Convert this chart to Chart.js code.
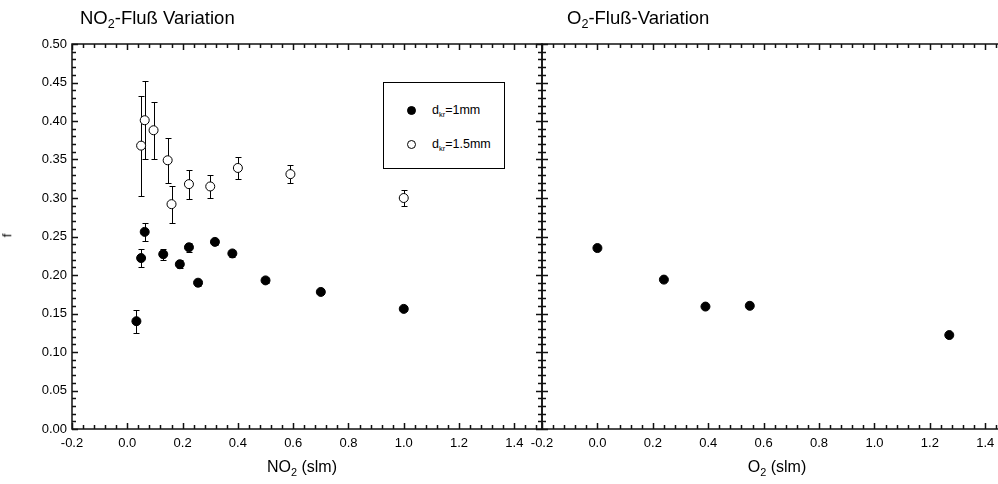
<!DOCTYPE html>
<html>
<head>
<meta charset="utf-8">
<title>NO2 / O2 Fluß Variation</title>
<script src="https://cdn.jsdelivr.net/npm/chart.js@4.4.1/dist/chart.umd.min.js"></script>
<style>
  html, body { margin: 0; padding: 0; background: #fff; overflow: hidden; }
  #wrap { position: relative; width: 998px; height: 484px; overflow: hidden;
          font-family: "Liberation Sans", Arial, sans-serif; color: #000; }
  canvas { position: absolute; top: 0; }
  .txt { position: absolute; white-space: nowrap; line-height: 1; }
  .txt sub { font-size: 0.68em; vertical-align: -0.35em; line-height: 0; }
  .title { font-size: 18.5px; top: 9px; }
  .axtitle { font-size: 16px; top: 459px; transform: translateX(-50%); }
  #legend { position: absolute; left: 383px; top: 82px; width: 122px; height: 87px;
            border: 1px solid #000; box-sizing: border-box; background: #fff; }
  .lrow { position: absolute; left: 0; font-size: 12.5px; }
  .lrow .dot { position: absolute; left: 23px; top: -4px; width: 9px; height: 9px;
               border-radius: 50%; box-sizing: border-box; border: 1px solid #000; }
  .lrow .lab { position: absolute; left: 48px; top: -7px; white-space: nowrap; }
  .lrow .lab sub { font-size: 0.6em; vertical-align: -0.4em; line-height: 0; }
</style>
</head>
<body>
<div id="wrap">
  <canvas id="leftCanvas" width="560" height="484" style="left:0"></canvas>
  <canvas id="rightCanvas" width="500" height="484" style="left:520px"></canvas>

  <div class="txt title" style="left:80px">NO<sub>2</sub>-Fluß Variation</div>
  <div class="txt title" style="left:567px">O<sub>2</sub>-Fluß-Variation</div>
  <div class="txt axtitle" style="left:302px">NO<sub>2</sub> (slm)</div>
  <div class="txt axtitle" style="left:777px">O<sub>2</sub> (slm)</div>
  <div class="txt" style="left:5px; top:229px; font-size:13px; transform: rotate(-90deg);">f</div>

  <div id="legend">
    <div class="lrow" style="top:27px"><span class="dot" style="background:#000"></span><span class="lab">d<sub>kr</sub>=1mm</span></div>
    <div class="lrow" style="top:61px"><span class="dot" style="background:#fff"></span><span class="lab">d<sub>kr</sub>=1.5mm</span></div>
  </div>
</div>

<script>
// NO2 flow variation, d_kr = 1 mm (filled)
const no2Flow1mm = [0.033, 0.05, 0.063, 0.13, 0.19, 0.223, 0.256, 0.317, 0.38, 0.5, 0.7, 1.0];
const f1mm       = [0.140, 0.222, 0.256, 0.227, 0.214, 0.236, 0.190, 0.243, 0.228, 0.193, 0.178, 0.156];
const err1mm     = [0.015, 0.012, 0.012, 0.007, 0.005, 0.006, 0.004, 0.004, 0.004, 0.003, 0.003, 0.003];

// NO2 flow variation, d_kr = 1.5 mm (open)
const no2Flow15mm = [0.05, 0.063, 0.095, 0.146, 0.16, 0.223, 0.30, 0.40, 0.59, 1.0];
const f15mm       = [0.368, 0.401, 0.388, 0.349, 0.292, 0.318, 0.315, 0.339, 0.331, 0.300];
const err15mm     = [0.065, 0.051, 0.037, 0.029, 0.024, 0.019, 0.015, 0.014, 0.012, 0.010];

// O2 flow variation
const o2Flow = [0.0, 0.24, 0.39, 0.55, 1.27];
const fO2    = [0.235, 0.194, 0.159, 0.160, 0.122];

// axis ticks
const xTicks = [-0.2, 0.0, 0.2, 0.4, 0.6, 0.8, 1.0, 1.2, 1.4];
const yTicks = [0.00, 0.05, 0.10, 0.15, 0.20, 0.25, 0.30, 0.35, 0.40, 0.45, 0.50];

Chart.defaults.font.family = '"Liberation Sans", Arial, sans-serif';
Chart.defaults.font.size = 13;
Chart.defaults.color = '#000';

const toPoints = (xs, ys) => xs.map((x, i) => ({ x: x, y: ys[i] }));

// vertical error bars, drawn under the markers
const errorBars = {
  id: 'errorBars',
  beforeDatasetsDraw(chart) {
    const ctx = chart.ctx;
    const xs = chart.scales.x, ys = chart.scales.y;
    ctx.save();
    ctx.strokeStyle = '#000';
    ctx.lineWidth = 1;
    chart.data.datasets.forEach(ds => {
      if (!ds.errors) return;
      ds.data.forEach((p, i) => {
        const e = ds.errors[i];
        if (!e) return;
        const px = Math.round(xs.getPixelForValue(p.x)) + 0.5;
        const top = Math.round(ys.getPixelForValue(p.y + e)) + 0.5;
        const bot = Math.round(ys.getPixelForValue(p.y - e)) + 0.5;
        ctx.beginPath();
        ctx.moveTo(px, top); ctx.lineTo(px, bot);
        ctx.moveTo(px - 3, top); ctx.lineTo(px + 3, top);
        ctx.moveTo(px - 3, bot); ctx.lineTo(px + 3, bot);
        ctx.stroke();
      });
    });
    ctx.restore();
  }
};

// frame with inward ticks on every side (major + minor)
const frameTicks = {
  id: 'frameTicks',
  afterDraw(chart) {
    const ctx = chart.ctx, a = chart.chartArea;
    const xs = chart.scales.x, ys = chart.scales.y;
    const L = Math.round(a.left), R = Math.round(a.right);
    const T = Math.round(a.top), B = Math.round(a.bottom);
    ctx.save();
    ctx.strokeStyle = '#111';
    ctx.lineWidth = 1.5;
    ctx.strokeRect(L, T, R - L, B - T);
    ctx.beginPath();
    // x: minor every 0.04, major every 0.2
    for (let i = 0; ; i++) {
      const v = xs.min + i * 0.04;
      if (v > xs.max + 1e-9) break;
      const p = Math.round(xs.getPixelForValue(v)) + 0.5;
      const len = i % 5 === 0 ? 6 : 4;
      ctx.moveTo(p, B); ctx.lineTo(p, B - len);
      ctx.moveTo(p, T); ctx.lineTo(p, T + len);
    }
    // y: minor every 0.01, major every 0.05
    for (let i = 0; ; i++) {
      const v = ys.min + i * 0.01;
      if (v > ys.max + 1e-9) break;
      const p = Math.round(ys.getPixelForValue(v)) + 0.5;
      const len = i % 5 === 0 ? 6 : 4;
      ctx.moveTo(L, p); ctx.lineTo(L + len, p);
      ctx.moveTo(R, p); ctx.lineTo(R - len, p);
    }
    ctx.stroke();
    ctx.restore();
  }
};

function xScale() {
  return {
    type: 'linear', position: 'bottom', min: -0.2, max: 1.5,
    grid: { display: false, drawTicks: false },
    border: { display: false },
    afterBuildTicks: s => { s.ticks = xTicks.map(v => ({ value: v })); },
    afterFit: s => { s.height = 30; },
    ticks: { padding: 7, maxRotation: 0, autoSkip: false,
             callback: v => Number(v).toFixed(1) }
  };
}

function yScale(show) {
  return {
    type: 'linear', min: 0, max: 0.5, display: show,
    grid: { display: false, drawTicks: false },
    border: { display: false },
    afterBuildTicks: s => { s.ticks = yTicks.map(v => ({ value: v })); },
    afterFit: s => { s.width = show ? 40 : 0; },
    ticks: { padding: 5, autoSkip: false, callback: v => Number(v).toFixed(2) }
  };
}

const baseOptions = {
  responsive: false,
  animation: false,
  plugins: { legend: { display: false }, tooltip: { enabled: false } }
};

new Chart(document.getElementById('leftCanvas'), {
  type: 'scatter',
  data: {
    datasets: [
      {
        label: 'dkr=1mm',
        data: toPoints(no2Flow1mm, f1mm),
        errors: err1mm,
        pointRadius: 4.5,
        backgroundColor: '#000',
        borderColor: '#000',
        borderWidth: 1
      },
      {
        label: 'dkr=1.5mm',
        data: toPoints(no2Flow15mm, f15mm),
        errors: err15mm,
        pointRadius: 4.5,
        backgroundColor: '#fff',
        borderColor: '#000',
        borderWidth: 1
      }
    ]
  },
  options: Object.assign({}, baseOptions, {
    layout: { padding: { left: 32, top: 44, right: 18, bottom: 25 } },
    scales: { x: xScale(), y: yScale(true) }
  }),
  plugins: [errorBars, frameTicks]
});

new Chart(document.getElementById('rightCanvas'), {
  type: 'scatter',
  data: {
    datasets: [
      {
        label: 'O2',
        data: toPoints(o2Flow, fO2),
        pointRadius: 4.5,
        backgroundColor: '#000',
        borderColor: '#000',
        borderWidth: 1
      }
    ]
  },
  options: Object.assign({}, baseOptions, {
    layout: { padding: { left: 22, top: 44, right: 7, bottom: 25 } },
    scales: { x: xScale(), y: yScale(false) }
  }),
  plugins: [errorBars, frameTicks]
});
</script>
</body>
</html>
